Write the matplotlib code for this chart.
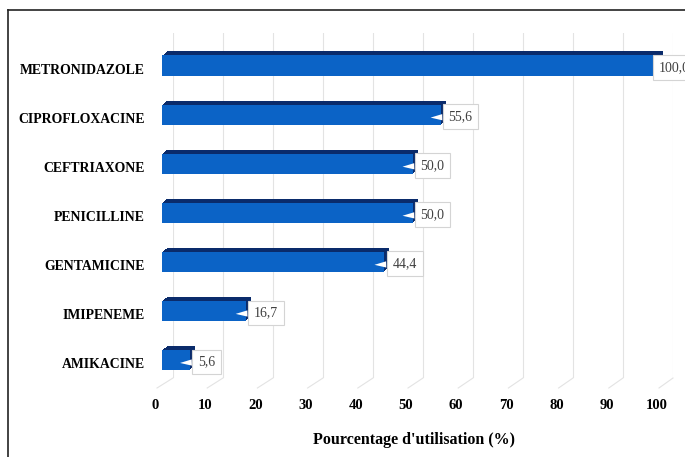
import matplotlib
matplotlib.use("Agg")
import matplotlib.pyplot as plt
from matplotlib.lines import Line2D
from matplotlib.transforms import IdentityTransform, offset_copy

categories = ["AMIKACINE", "IMIPENEME", "GENTAMICINE", "PENICILLINE",
              "CEFTRIAXONE", "CIPROFLOXACINE", "METRONIDAZOLE"]
values = [5.6, 16.7, 44.4, 50.0, 50.0, 55.6, 100.0]
value_labels = ["5,6", "16,7", "44,4", "50,0", "50,0", "55,6", "100,0"]
x_ticks = list(range(0, 101, 10))

W, H = 685, 457
fig = plt.figure(figsize=(W / 100, H / 100), dpi=100)

SERIF = "Liberation Serif"
FRONT = "#0b63c6"
DEPTH = "#0a2b6b"
GRID = "#e3e3e3"


def px_box(left, top, right, bottom):
    """Axes rectangle from pixel edges measured from the top-left corner."""
    return [left / W, 1 - bottom / H, (right - left) / W, (bottom - top) / H]


# back wall carrying the vertical gridlines
ax_back = fig.add_axes(px_box(173, 33, 673, 378))
ax_back.set_xlim(0, 100)
ax_back.set_ylim(0, 1)
ax_back.axis("off")
for t in x_ticks:
    ax_back.axvline(t, color=GRID, lw=0.8)

# bars: dark copies stepped up/right build the top and side faces
ax = fig.add_axes(px_box(162, 41, 663, 384.5))
pos = list(range(len(categories)))
for k in range(1, 6):
    depth_tf = offset_copy(ax.transData, fig=fig, x=k, y=0.8 * k, units="dots")
    ax.barh(pos, values, height=0.41, color=DEPTH, transform=depth_tf,
            zorder=2)
ax.barh(pos, values, height=0.41, color=FRONT, zorder=3)
ax.set_xlim(0, 100)
ax.set_ylim(-0.5, len(categories) - 0.5)
ax.axis("off")

cat_tf = offset_copy(ax.get_yaxis_transform(), fig=fig, x=-17, y=-5, units="dots")
for i, name in enumerate(categories):
    ax.text(0, i, name, transform=cat_tf, ha="right", va="center",
            fontfamily=SERIF, fontweight="bold", fontsize=9.9)

# value callouts
tip_tf = offset_copy(ax.transData, fig=fig, x=-10, y=-3, units="dots")
text_tf = offset_copy(ax.transData, fig=fig, x=8, y=-2, units="dots")
for i, (v, lab) in enumerate(zip(values, value_labels)):
    ax.annotate(lab, xy=(v, i), xycoords=tip_tf,
                xytext=(min(v, 97.6), i), textcoords=text_tf,
                ha="left", va="center", fontfamily=SERIF, fontsize=10,
                color="#404040", zorder=4, annotation_clip=False,
                bbox=dict(boxstyle="square,pad=0.42", fc="white",
                          ec="#d4d4d4", lw=0.8),
                arrowprops=dict(arrowstyle="wedge,tail_width=0.45,shrink_factor=0.5",
                                fc="white", ec="none", shrinkA=0, shrinkB=0))

# front floor edge with the tick labels
ax_tick = fig.add_axes(px_box(155, 380, 657, 398))
ax_tick.set_xlim(0, 100)
ax_tick.set_xticks(x_ticks)
ax_tick.set_xticklabels([str(t) for t in x_ticks], fontfamily=SERIF,
                        fontweight="bold", fontsize=10.5)
ax_tick.set_yticks([])
ax_tick.tick_params(axis="x", length=0, pad=1)
for s in ax_tick.spines.values():
    s.set_visible(False)
ax_tick.patch.set_visible(False)

# floor lines joining the front edge to the back wall
back_y = ax_back.transAxes.transform((0, 0))[1]
for t in x_ticks:
    x0 = ax_tick.transData.transform((t, 0))[0] + 2
    x1 = ax_back.transData.transform((t, 0))[0]
    fig.add_artist(Line2D([x0, x1], [back_y - 10, back_y], color=GRID,
                          lw=0.8, transform=IdentityTransform()))

fig.text(414 / W, 1 - 440 / H, "Pourcentage d'utilisation (%)",
         ha="center", va="center", fontfamily=SERIF, fontweight="bold",
         fontsize=11.5)

# outer frame (top and left edges)
fig.add_artist(Line2D([8 / W, 8 / W], [0, 1 - 10 / H], color="#222222", lw=1.2))
fig.add_artist(Line2D([8 / W, 1], [1 - 10 / H, 1 - 10 / H], color="#222222", lw=1.2))

fig.savefig("out.png", dpi=100)
